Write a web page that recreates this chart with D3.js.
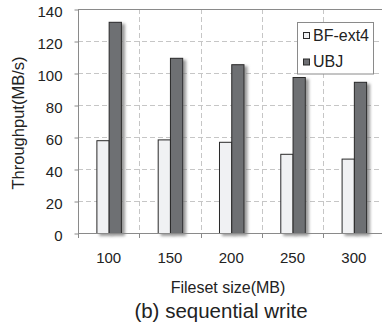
<!DOCTYPE html>
<html><head><meta charset="utf-8">
<script src="https://cdn.jsdelivr.net/npm/d3@7"></script>
<style>body{margin:0;background:#fff}svg{display:block}text{font-family:"Liberation Sans",Arial,sans-serif;fill:#222}</style>
</head><body>
<script>
const categories = ["100","150","200","250","300"];
const bfExt4 = [58, 58.5, 57, 49.5, 46.5];
const ubj = [132, 109.5, 105.5, 97.5, 94.5];
const yTicks = [0,20,40,60,80,100,120,140];
const seriesNames = ["BF-ext4","UBJ"];

const W=382,H=327;
const svg=d3.select("body").append("svg").attr("width",W).attr("height",H);
const defs=svg.append("defs");
const f=defs.append("filter").attr("id","sh").attr("x","-50%").attr("y","-10%").attr("width","200%").attr("height","130%");
f.append("feDropShadow").attr("dx",3).attr("dy",2).attr("stdDeviation",1.6).attr("flood-color","#777").attr("flood-opacity",0.75);

const L=78,R=384.5,T=9,B=233;
const x=d3.scaleBand().domain(categories).range([L,R]).padding(0);
const y=d3.scaleLinear().domain([0,140]).range([B,T]);
const bw=x.bandwidth()/5;

// grid
svg.append("g").selectAll("line").data(yTicks.filter(d=>d>0&&d<140)).join("line")
 .attr("x1",L).attr("x2",W).attr("y1",d=>y(d)+0.5).attr("y2",d=>y(d)+0.5)
 .attr("stroke","#c6c6c6").attr("stroke-dasharray","5,3");
svg.append("g").selectAll("line").data(categories.slice(1)).join("line")
 .attr("x1",d=>Math.round(x(d))+0.5).attr("x2",d=>Math.round(x(d))+0.5).attr("y1",T).attr("y2",B)
 .attr("stroke","#c6c6c6").attr("stroke-dasharray","5,3");
// top border
svg.append("line").attr("x1",L).attr("x2",W).attr("y1",T+0.5).attr("y2",T+0.5).attr("stroke","#8a8a8a");

// bars
const g=svg.append("g");
categories.forEach((c,i)=>{
  const cx=x(c)+x.bandwidth()/2;
  g.append("rect").attr("x",cx-bw+0.5).attr("y",y(bfExt4[i])+0.5).attr("width",bw).attr("height",B-y(bfExt4[i]))
   .attr("fill","#f0f1f3").attr("stroke","#2a2a2a").attr("stroke-width",1).attr("filter","url(#sh)");
  g.append("rect").attr("x",cx+0.5).attr("y",y(ubj[i])+0.5).attr("width",bw).attr("height",B-y(ubj[i]))
   .attr("fill","#6e6f73").attr("stroke","#2a2a2a").attr("stroke-width",1).attr("filter","url(#sh)");
});

// y axis
const ya=svg.append("g").attr("transform",`translate(${L+0.5},0.5)`)
 .call(d3.axisLeft(y).tickValues(yTicks).tickSize(4).tickPadding(12));
ya.select(".domain").remove();
ya.selectAll("line").attr("stroke","#8a8a8a");
ya.selectAll("text").attr("font-size","15px").attr("dy","0.48em").style("font-family","Liberation Sans, Arial, sans-serif").attr("fill","#222");
svg.append("line").attr("x1",L+0.5).attr("x2",L+0.5).attr("y1",T).attr("y2",B+5).attr("stroke","#8a8a8a");
// x axis
svg.append("line").attr("x1",L).attr("x2",W).attr("y1",B+0.5).attr("y2",B+0.5).attr("stroke","#8a8a8a");
svg.append("g").selectAll("line").data(categories.slice(1)).join("line")
 .attr("x1",d=>Math.round(x(d))+0.5).attr("x2",d=>Math.round(x(d))+0.5).attr("y1",B).attr("y2",B+5).attr("stroke","#8a8a8a");
svg.append("g").selectAll("text").data(categories).join("text")
 .attr("x",d=>x(d)+x.bandwidth()/2).attr("y",263).attr("text-anchor","middle").attr("font-size","15px").text(d=>d);

// labels
svg.append("text").attr("x",228).attr("y",292.5).attr("text-anchor","middle").attr("font-size","16px").text("Fileset size(MB)");
svg.append("text").attr("x",221).attr("y",317.5).attr("text-anchor","middle").attr("font-size","20.5px").text("(b) sequential write");
svg.append("text").attr("transform","translate(24,123) rotate(-90)").attr("text-anchor","middle").attr("font-size","16.5px").text("Throughput(MB/s)");

// legend
const lg=svg.append("g");
lg.append("rect").attr("x",297.5).attr("y",22.5).attr("width",76).attr("height",51.5).attr("fill","#fff").attr("stroke","#8a8a8a");
const fills=["#f0f1f3","#6e6f73"];
seriesNames.forEach((n,i)=>{
  lg.append("rect").attr("x",303.5).attr("y",32.5+i*26.5).attr("width",6).attr("height",6).attr("fill",fills[i]).attr("stroke","#2a2a2a");
  lg.append("text").attr("x",313).attr("y",40.5+i*26.5).attr("font-size","16px").text(n);
});
</script>
</body></html>
